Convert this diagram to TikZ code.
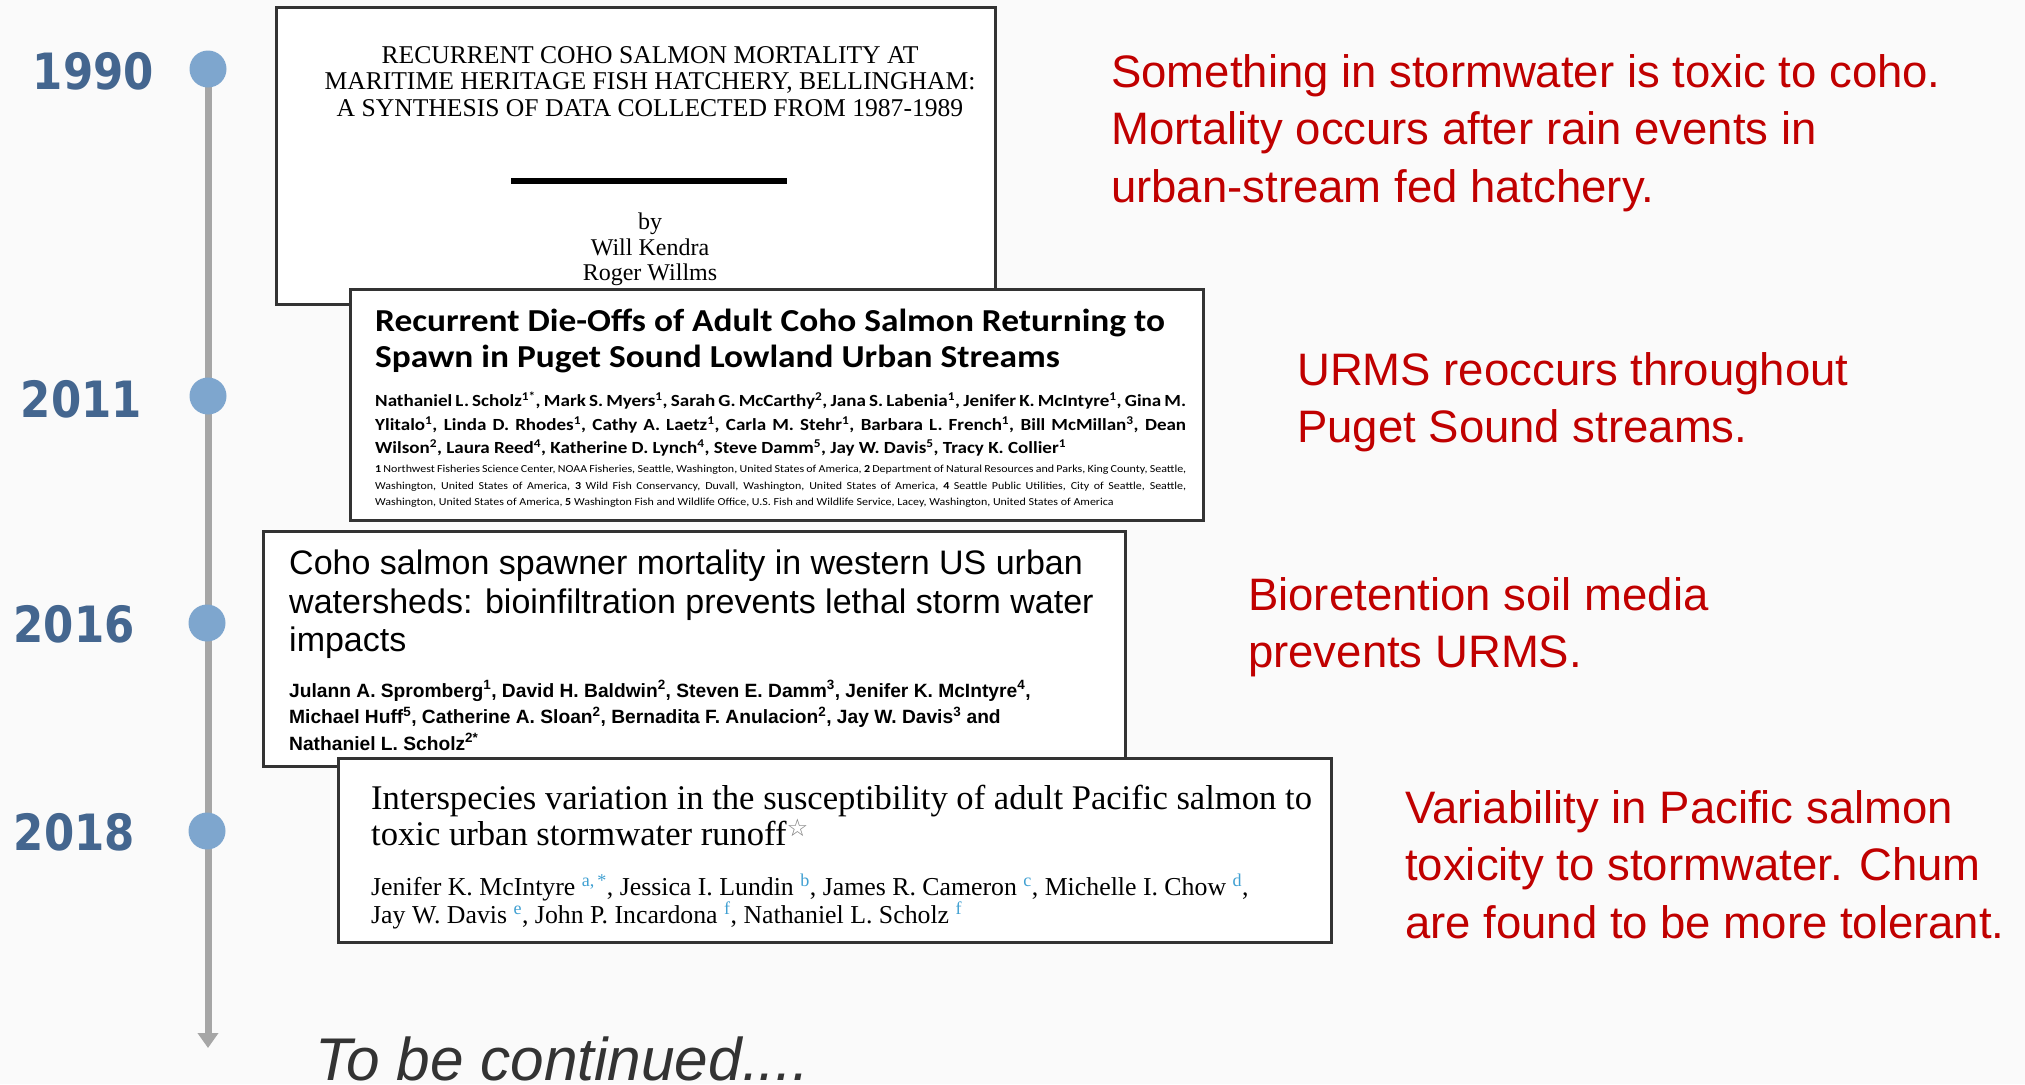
\documentclass[tikz,border=0pt]{standalone}
\usepackage{fontspec}
\usetikzlibrary{arrows.meta}
\setmainfont{Liberation Sans}
\newfontfamily\yearfont{DejaVu Sans}[FakeStretch=0.87]
\newfontfamily\notefont{Liberation Sans}
\newfontfamily\reportfont{Liberation Serif}
\newfontfamily\plosfont{Carlito}[FakeStretch=1.12]
\newfontfamily\ploshead{Carlito}[FakeStretch=1.105]
\newfontfamily\journalfont{Liberation Serif}
\newfontfamily\symfont{DejaVu Sans}

\definecolor{pagebg}{RGB}{250,250,250}
\definecolor{yearblue}{RGB}{68,102,143}
\definecolor{dotblue}{RGB}{126,166,206}
\definecolor{railgray}{RGB}{166,166,166}
\definecolor{notered}{RGB}{192,0,0}
\definecolor{boxline}{RGB}{51,51,51}
\definecolor{linkblue}{RGB}{64,160,210}
\definecolor{moregray}{RGB}{51,51,51}

\pgfdeclarelayer{page}
\pgfdeclarelayer{rail}
\pgfsetlayers{page,rail,main}

\newcommand\fs[2]{\fontsize{#1}{#2}\selectfont}
\newcommand\up[1]{\textsuperscript{#1}}
\newcommand\lk[1]{\textsuperscript{\textcolor{linkblue}{#1}}}

\begin{document}
\begin{tikzpicture}[x=1pt,y=-1pt,
  paper/.style={draw=boxline,line width=3pt,fill=white,anchor=north west,inner sep=0pt},
  dot/.style={circle,fill=dotblue,minimum size=37pt,inner sep=0pt},
  year/.style={text=yearblue,font=\yearfont\bfseries\fs{50}{50},inner sep=0pt},
  note/.style={text=notered,font=\notefont\fs{45.5}{57.5},align=left,anchor=north west,inner sep=0pt},
  txt/.style={anchor=north west,inner sep=0pt,align=left},
]
\begin{pgfonlayer}{page}
  \fill[pagebg] (0,0) rectangle (2025,1084);
\end{pgfonlayer}
\useasboundingbox (0,0) rectangle (2025,1084);

% ---- timeline ----
\node[dot] (d1990) at (208,69) {};
\node[dot] (d2011) at (208,396) {};
\node[dot] (d2016) at (207,623) {};
\node[dot] (d2018) at (207,831) {};
\coordinate (railend) at (208,1048);
\begin{pgfonlayer}{rail}
  \draw[railgray,line width=7pt,-{Triangle[width=20pt,length=15pt]}] (d1990.center) -- (railend);
\end{pgfonlayer}

\node[year] (y1990) at (93.5,71) {1990};
\node[year] (y2011) at (81.5,399) {2011};
\node[year] (y2016) at (74,624) {2016};
\node[year] (y2018) at (74.5,832) {2018};

% ---- 1990 report ----
\node[paper,minimum width=719pt,minimum height=297pt] (p1990) at (275,6) {};
\node[txt,anchor=north,align=center,font=\reportfont\fs{25.6}{26.5}] (t1990) at (650,46)
  {RECURRENT COHO SALMON MORTALITY AT\\MARITIME HERITAGE FISH HATCHERY, BELLINGHAM:\\A SYNTHESIS OF DATA COLLECTED FROM 1987-1989};
\coordinate (barL) at (511,181);
\coordinate (barR) at (787,181);
\draw[line width=6pt] (barL) -- (barR);
\node[txt,anchor=north,align=center,font=\reportfont\fs{24}{25.5}] (a1990) at (650,213)
  {by\\Will Kendra\\Roger Willms};

% ---- 2011 article ----
\node[paper,minimum width=853pt,minimum height=231pt] (p2011) at (349,288) {};
\node[txt,font=\ploshead\bfseries\fs{32}{36}] (t2011) at (375,309)
  {Recurrent Die-Offs of Adult Coho Salmon Returning to\\Spawn in Puget Sound Lowland Urban Streams};
\node[txt,text width=811pt,align=justify,font=\plosfont\bfseries\fs{17}{23.5}] (a2011) at (375,392)
  {Nathaniel L. Scholz\up{1*}, Mark S. Myers\up{1}, Sarah G. McCarthy\up{2}, Jana S. Labenia\up{1}, Jenifer K. McIntyre\up{1}, Gina M.\linebreak
   Ylitalo\up{1}, Linda D. Rhodes\up{1}, Cathy A. Laetz\up{1}, Carla M. Stehr\up{1}, Barbara L. French\up{1}, Bill McMillan\up{3}, Dean\linebreak
   Wilson\up{2}, Laura Reed\up{4}, Katherine D. Lynch\up{4}, Steve Damm\up{5}, Jay W. Davis\up{5}, Tracy K. Collier\up{1}};
\node[txt,text width=811pt,align=justify,font=\plosfont\fs{10.7}{16.5}] (f2011) at (375,465)
  {\textbf{1} Northwest Fisheries Science Center, NOAA Fisheries, Seattle, Washington, United States of America, \textbf{2} Department of Natural Resources and Parks, King County, Seattle,\linebreak
   Washington, United States of America, \textbf{3} Wild Fish Conservancy, Duvall, Washington, United States of America, \textbf{4} Seattle Public Utilities, City of Seattle, Seattle,\linebreak
   Washington, United States of America, \textbf{5} Washington Fish and Wildlife Office, U.S. Fish and Wildlife Service, Lacey, Washington, United States of America};

% ---- 2016 article ----
\node[paper,minimum width=862pt,minimum height=235pt] (p2016) at (262,530) {};
\node[txt,font=\fs{34}{38.5}] (t2016) at (289,550)
  {Coho salmon spawner mortality in western US urban\\watersheds: bioinfiltration prevents lethal storm water\\impacts};
\node[txt,font=\bfseries\fs{19.2}{26.5}] (a2016) at (289,680)
  {Julann A. Spromberg\up{1}, David H. Baldwin\up{2}, Steven E. Damm\up{3}, Jenifer K. McIntyre\up{4},\\
   Michael Huff\up{5}, Catherine A. Sloan\up{2}, Bernadita F. Anulacion\up{2}, Jay W. Davis\up{3} and\\
   Nathaniel L. Scholz\up{2*}};

% ---- 2018 article ----
\node[paper,minimum width=993pt,minimum height=184pt] (p2018) at (337,757) {};
\node[txt,font=\journalfont\fs{34.6}{36}] (t2018) at (371,785)
  {Interspecies variation in the susceptibility of adult Pacific salmon to\\toxic urban stormwater runoff\textsuperscript{\textcolor{gray}{\symfont ☆}}};
\node[txt,font=\journalfont\fs{25.8}{28}] (a2018) at (371,874)
  {Jenifer K. McIntyre \lk{a,\,*}, Jessica I. Lundin \lk{b}, James R. Cameron \lk{c}, Michelle I. Chow \lk{d},\\
   Jay W. Davis \lk{e}, John P. Incardona \lk{f}, Nathaniel L. Scholz \lk{f}};

% ---- findings ----
\node[note] (n1990) at (1111,54) {Something in stormwater is toxic to coho.\\Mortality occurs after rain events in\\urban-stream fed hatchery.};
\node[note] (n2011) at (1297,352) {URMS reoccurs throughout\\Puget Sound streams.};
\node[note] (n2016) at (1248,577) {Bioretention soil media\\prevents URMS.};
\node[note] (n2018) at (1405,790) {Variability in Pacific salmon\\toxicity to stormwater. Chum\\are found to be more tolerant.};

\node[anchor=base west,inner sep=0pt,text=moregray,font=\itshape\fs{60.3}{60.3}] (more) at (315,1080) {To be continued....};
\end{tikzpicture}
\end{document}
